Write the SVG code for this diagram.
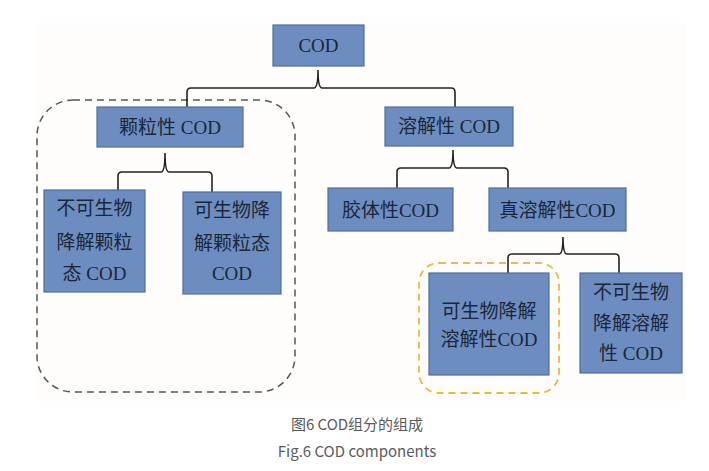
<svg xmlns="http://www.w3.org/2000/svg" width="709" height="471" viewBox="0 0 709 471">
<style>
.box{fill:#6d8dc0;stroke:#506e9a;stroke-width:1.2}
.t{font-family:"Liberation Serif","Noto Sans CJK SC",serif;font-size:19px;fill:#1b2638;text-anchor:middle}
.br{fill:none;stroke:#222;stroke-width:1.6}
.cap{font-family:"Noto Sans CJK SC","Noto Sans",sans-serif;font-size:15px;fill:#5a5a5a;text-anchor:middle}
</style>
<rect x="0" y="0" width="709" height="471" fill="#ffffff"/>
<rect x="36" y="23" width="650" height="378" fill="#fefdfb"/>
<g id="groups">
<rect x="37" y="100" width="258" height="292" rx="36" fill="none" stroke="#555" stroke-width="1.5" stroke-dasharray="7,5"/>
<rect x="419" y="263" width="140" height="130" rx="20" fill="none" stroke="#f0b548" stroke-width="1.8" stroke-dasharray="7,5"/>
</g>
<g id="connectors">
<path class="br" d="M318,70 Q318,88 314,88 H191 Q187,88 187,92 V108 M318,70 Q318,88 322,88 H451 Q455,88 455,92 V108"/>
<path class="br" d="M165,153 Q165,172 161,172 H122 Q118,172 118,176 V190 M165,153 Q165,172 169,172 H208 Q212,172 212,176 V192"/>
<path class="br" d="M453,150 Q453,168 449,168 H401 Q397,168 397,172 V188 M453,150 Q453,168 457,168 H504 Q508,168 508,172 V188"/>
<path class="br" d="M563,237 Q563,254 559,254 H512 Q508,254 508,258 V273 M563,237 Q563,254 567,254 H615 Q619,254 619,258 V273"/>
</g>
<g id="n-cod">
<rect class="box" x="273" y="25" width="91" height="41"/>
<text class="t" x="318.5" y="52">COD</text>
</g>
<g id="n-particulate">
<rect class="box" x="97" y="107" width="146" height="40"/>
<text class="t" x="170" y="134">颗粒性 COD</text>
</g>
<g id="n-soluble">
<rect class="box" x="385" y="107" width="128" height="39"/>
<text class="t" x="449" y="133">溶解性 COD</text>
</g>
<g id="n-nbpcod">
<rect class="box" x="44" y="190" width="101" height="102"/>
<text class="t" x="94.5" y="215">不可生物</text>
<text class="t" x="94.5" y="249">降解颗粒</text>
<text class="t" x="94.5" y="280">态 COD</text>
</g>
<g id="n-bpcod">
<rect class="box" x="183" y="192" width="98" height="102"/>
<text class="t" x="232" y="217">可生物降</text>
<text class="t" x="232" y="250">解颗粒态</text>
<text class="t" x="232" y="280">COD</text>
</g>
<g id="n-colloid">
<rect class="box" x="328" y="188" width="125" height="43"/>
<text class="t" x="390.5" y="217">胶体性COD</text>
</g>
<g id="n-truesol">
<rect class="box" x="489" y="188" width="137" height="43"/>
<text class="t" x="557.5" y="217">真溶解性COD</text>
</g>
<g id="n-bscod">
<rect class="box" x="429" y="273" width="120" height="102"/>
<text class="t" x="489" y="318">可生物降解</text>
<text class="t" x="489" y="346">溶解性COD</text>
</g>
<g id="n-nbscod">
<rect class="box" x="580" y="273" width="102" height="100"/>
<text class="t" x="631" y="299">不可生物</text>
<text class="t" x="631" y="330">降解溶解</text>
<text class="t" x="631" y="360">性 COD</text>
</g>
<text class="cap" x="357" y="430">图6 COD组分的组成</text>
<text class="cap" x="357" y="457">Fig.6 COD components</text>
</svg>
